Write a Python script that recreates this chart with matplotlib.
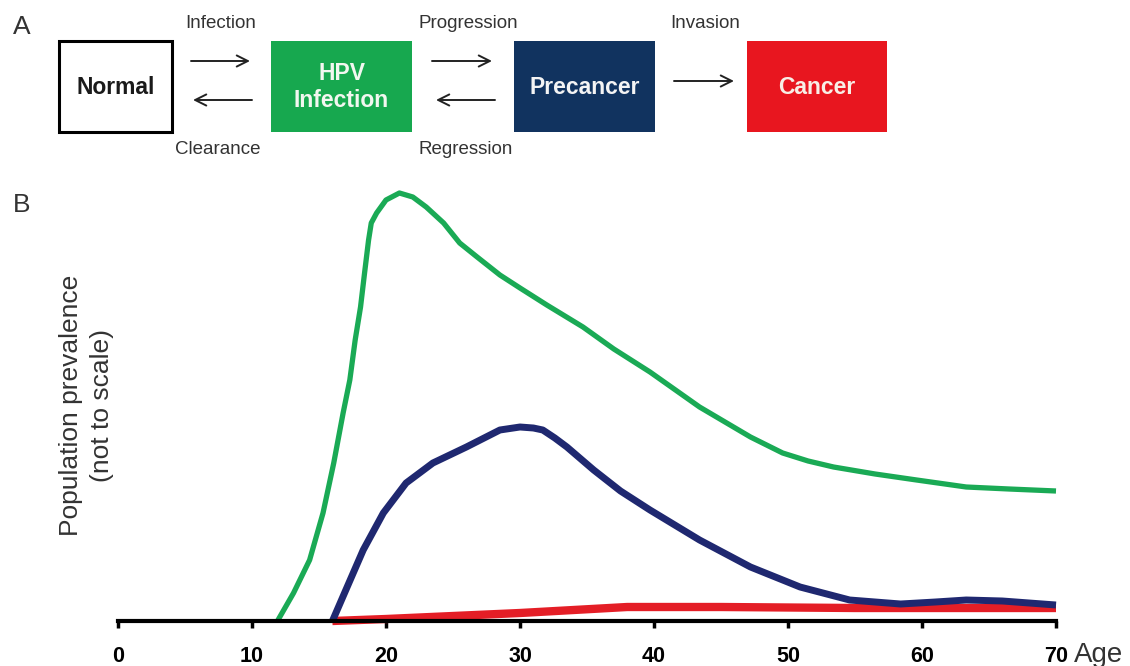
import matplotlib
matplotlib.use("Agg")
import matplotlib.pyplot as plt
from matplotlib.patches import Rectangle

plt.rcParams["font.family"] = ["Liberation Sans", "DejaVu Sans"]

# Panel B data (age, prevalence in arbitrary units - "not to scale")
hpv_age = [11.9, 13.1, 14.3, 15.3, 16.1, 16.8, 17.3, 17.7, 18.1, 18.4, 18.7, 18.9, 19.3,
           20.0, 21.0, 22.0, 23.0, 24.3, 25.5, 26.8, 28.5, 30.0, 32.0, 34.7, 37.0, 39.7,
           43.4, 47.2, 49.6, 51.5, 53.4, 56.5, 59.6, 63.3, 66.5, 70.0]
hpv_val = [0, 28, 61, 108, 158, 208, 241, 281, 314, 348, 381, 398, 408,
           421, 428, 424, 414, 398, 378, 364, 346, 333, 316, 294, 272, 249,
           214, 184, 168, 160, 154, 147, 141, 134, 132, 130]

pre_age = [16.0, 17.1, 18.3, 19.8, 21.5, 23.5, 26.0, 28.5, 30.0, 31.0, 31.7, 32.6, 33.5,
           35.5, 37.5, 39.7, 43.4, 47.2, 50.9, 54.6, 58.4, 61.0, 63.3, 66.0, 70.0]
pre_val = [0, 34, 71, 108, 138, 158, 174, 191, 194, 193, 191, 183, 174,
           151, 130, 111, 81, 54, 34, 21, 17, 19, 21, 20, 16]

can_age = [16.0, 20.0, 25.0, 30.0, 34.0, 38.0, 45.0, 55.0, 62.0, 70.0]
can_val = [0, 2, 5, 8, 11, 14, 14, 13, 13, 13]

age_ticks = [0, 10, 20, 30, 40, 50, 60, 70]

# Panel A states and transitions
states = ["Normal", "HPV\nInfection", "Precancer", "Cancer"]
state_colors = ["white", "#17a84f", "#11335f", "#e8161f"]
state_text = ["#1a1a1a", "#f2f7f0", "#f4f4f4", "#f8efe6"]

GREEN = "#1aaa55"
NAVY = "#1f2870"
RED = "#e41e26"

fig = plt.figure(figsize=(11.3, 6.66), dpi=100)

# ---- panel A (drawn in pixel coordinates) ----
top = fig.add_axes([0, 0, 1, 1])
top.set_xlim(0, 1130)
top.set_ylim(666, 0)
top.axis("off")

box_x = [(59, 172), (271, 412), (514, 655), (747, 887)]
for (x0, x1), name, fc, tc in zip(box_x, states, state_colors, state_text):
    ec = "black" if fc == "white" else fc
    lw = 2.2 if fc == "white" else 0
    top.add_patch(Rectangle((x0, 41), x1 - x0, 91, facecolor=fc, edgecolor=ec, lw=lw))
    top.text((x0 + x1) / 2, 87, name, ha="center", va="center", color=tc,
             fontsize=16.5, fontweight="bold", linespacing=1.25)

arrows = [(191, 250, 61), (252, 193, 100), (432, 492, 61), (495, 436, 100), (674, 734, 81)]
for xa, xb, y in arrows:
    top.annotate("", xy=(xb, y), xytext=(xa, y),
                 arrowprops=dict(arrowstyle="->", lw=1.4, color="#222222",
                                 mutation_scale=20, shrinkA=0, shrinkB=0))

labels = [("Infection", 221, 23), ("Clearance", 218, 150), ("Progression", 468, 23),
          ("Regression", 466, 150), ("Invasion", 705, 23)]
for txt, x, y in labels:
    top.text(x, y, txt, ha="center", va="center", fontsize=13.5, color="#333333")

top.text(22, 27, "A", ha="center", va="center", fontsize=19, color="#333333")
top.text(22, 205, "B", ha="center", va="center", fontsize=19, color="#333333")

# ---- panel B ----
ax = fig.add_axes([118 / 1130, 45 / 666, 938 / 1130, 441 / 666])
ax.plot(can_age, can_val, color=RED, lw=6, solid_capstyle="butt", solid_joinstyle="round",
        clip_on=False, zorder=2)
ax.plot(pre_age, pre_val, color=NAVY, lw=5, solid_capstyle="butt", solid_joinstyle="round",
        clip_on=False, zorder=3)
ax.plot(hpv_age, hpv_val, color=GREEN, lw=3.8, solid_capstyle="butt", solid_joinstyle="round",
        clip_on=False, zorder=4)

ax.set_xlim(0, 70)
ax.set_ylim(0, 441)
for s in ["top", "right", "left"]:
    ax.spines[s].set_visible(False)
ax.spines["bottom"].set_linewidth(3)
ax.spines["bottom"].set_zorder(5)
ax.set_yticks([])
ax.set_xticks(age_ticks)
ax.set_xticklabels([str(t) for t in age_ticks], fontsize=15.5, fontweight="bold",
                   family=["Liberation Sans Narrow", "Liberation Sans", "DejaVu Sans"])
ax.tick_params(axis="x", direction="out", length=5, width=2.5, pad=13, colors="black")

fig.text(86.5 / 1130, 1 - 405 / 666, "Population prevalence\n(not to scale)", rotation=90,
         ha="center", va="center", fontsize=19, color="#333333", linespacing=1.4)
fig.text(1074 / 1130, 1 - 655 / 666, "Age", ha="left", va="center", fontsize=20,
         color="#333333")

fig.savefig("out.png", dpi=100)
